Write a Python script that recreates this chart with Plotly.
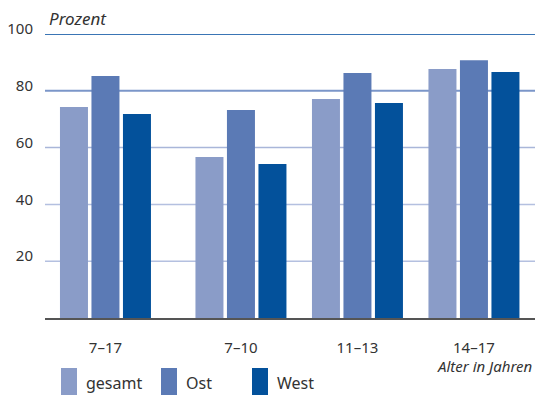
import plotly.graph_objects as go

# ---- data ----
categories = ["7–17", "7–10", "11–13", "14–17"]
group_pos = [0.0, 1.163, 2.163, 3.163]
series_names = ["gesamt", "Ost", "West"]
gesamt = [74.3, 56.7, 77.1, 87.7]
ost = [85.2, 73.2, 86.3, 90.8]
west = [71.8, 54.2, 75.7, 86.6]
y_ticks = [20, 40, 60, 80, 100]
y_tick_labels = ["20", "40", "60", "80", "100"]

colors = ["#8a9cc8", "#5b7ab5", "#03519b"]
grid_colors = {20: "#b4c0e0", 40: "#b4c0e0", 60: "#a9b6d9", 80: "#7b96c9", 100: "#3a75b5"}
grid_widths = {20: 1.5, 40: 1.5, 60: 1.5, 80: 2, 100: 2}

FONT = "Noto Sans"
TXT = "#333333"

W, H = 535, 395
L, R, T, B = 45, 0, 34, 77
PW, PH = W - L - R, H - T - B

def px_x(x):
    return (x - L) / PW

def px_y(y):
    return (H - B - y) / PH

fig = go.Figure()
for name, vals, col in zip(series_names, [gesamt, ost, west], colors):
    fig.add_trace(go.Bar(x=group_pos, y=vals, name=name, marker_color=col,
                         marker_line_width=0, showlegend=False))

shapes = []
for t in y_ticks:
    shapes.append(dict(type="line", xref="paper", yref="y", x0=0, x1=1, y0=t, y1=t,
                       line=dict(color=grid_colors[t], width=grid_widths[t]), layer="below"))

# custom legend
legend_x = [61, 161, 252]
annotations = []
for name, col, lx in zip(series_names, colors, legend_x):
    shapes.append(dict(type="rect", xref="paper", yref="paper",
                       x0=px_x(lx), x1=px_x(lx + 16), y0=px_y(396), y1=px_y(368),
                       fillcolor=col, line=dict(width=0)))
    annotations.append(dict(text=name, xref="paper", yref="paper", x=px_x(lx + 23), y=px_y(383),
                            xanchor="left", yanchor="middle", showarrow=False,
                            font=dict(family=FONT, size=16, color=TXT)))

annotations.append(dict(text="<i>Prozent</i>", xref="paper", yref="paper",
                        x=px_x(47), y=px_y(18), xanchor="left", yanchor="middle",
                        showarrow=False, font=dict(family=FONT, size=17, color=TXT)))
annotations.append(dict(text="<i>Alter in Jahren</i>", xref="paper", yref="paper",
                        x=px_x(534), y=px_y(366), xanchor="right", yanchor="middle",
                        showarrow=False, font=dict(family=FONT, size=15, color=TXT)))

fig.update_layout(
    width=W, height=H,
    margin=dict(l=L, r=R, t=T, b=B, pad=0),
    paper_bgcolor="white", plot_bgcolor="white",
    barmode="group", bargap=0.189, bargroupgap=0.111,
    shapes=shapes, annotations=annotations,
    showlegend=False,
    xaxis=dict(range=[-0.519, 3.687], tickmode="array", tickvals=group_pos, ticktext=categories,
               showgrid=False, zeroline=False, showline=True, linecolor="#555555", linewidth=2,
               ticks="outside", ticklen=15, tickcolor="rgba(0,0,0,0)",
               tickfont=dict(family=FONT, size=15, color=TXT)),
    yaxis=dict(range=[0, 100], tickmode="array", tickvals=y_ticks, ticktext=y_tick_labels,
               showgrid=False, zeroline=False, showline=False,
               ticks="outside", ticklen=8, tickcolor="rgba(0,0,0,0)", ticklabelshift=-5,
               tickfont=dict(family=FONT, size=15, color=TXT)),
)

fig.write_html("out.html", config={"displayModeBar": False},
               post_script="document.body.style.margin='0';document.body.style.padding='0';"
                           "document.body.style.overflow='hidden';")
